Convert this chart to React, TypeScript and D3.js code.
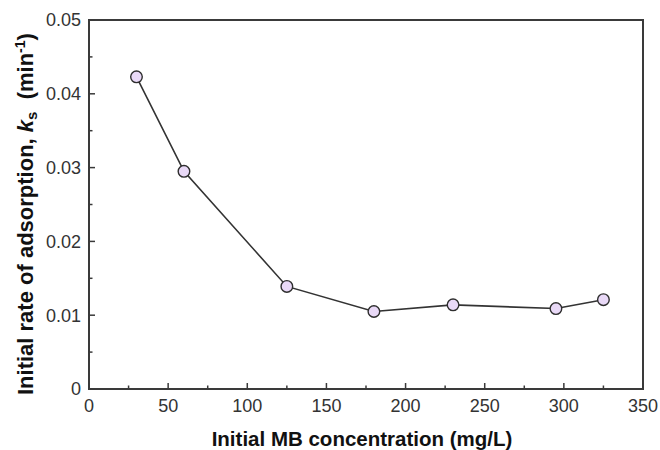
import React from "react";
import * as d3 from "d3";

const concentrations = [30, 60, 125, 180, 230, 295, 325];
const rateKs = [0.0423, 0.0295, 0.0139, 0.0105, 0.0114, 0.0109, 0.0121];
const xTicks = [0, 50, 100, 150, 200, 250, 300, 350];
const yTicks = [0, 0.01, 0.02, 0.03, 0.04, 0.05];
const xMinorTicks = [25, 75, 125, 175, 225, 275, 325];
const yMinorTicks = [0.005, 0.015, 0.025, 0.035, 0.045];

const W = 660;
const H = 450;
const M = { left: 89, right: 17, top: 20, bottom: 61 };

export default function App() {
  const x = d3.scaleLinear().domain([0, 350]).range([M.left, W - M.right]);
  const y = d3.scaleLinear().domain([0, 0.05]).range([H - M.bottom, M.top]);
  const pts = concentrations.map((c, i) => [c, rateKs[i]] as [number, number]);
  const line = d3
    .line<[number, number]>()
    .x((d) => x(d[0]))
    .y((d) => y(d[1]));
  const axisColor = "#3a3a3a";
  const font = "Liberation Sans, Arial, sans-serif";
  const x0 = x(0);
  const x1 = x(350);
  const y0 = y(0);
  const y1 = y(0.05);

  return (
    <svg
      width={W}
      height={H}
      style={{ position: "absolute", left: 0, top: 0, background: "#fff" }}
      fontFamily={font}
    >
      <rect x={0} y={0} width={W} height={H} fill="#fff" />
      {/* frame */}
      <rect
        x={x0}
        y={y1}
        width={x1 - x0}
        height={y0 - y1}
        fill="none"
        stroke={axisColor}
        strokeWidth={2}
      />
      {/* x ticks */}
      {xTicks.map((t) => (
        <g key={"xt" + t}>
          <line x1={x(t)} x2={x(t)} y1={y0} y2={y0 - 6} stroke={axisColor} strokeWidth={1.5} />
          <text
            x={x(t)}
            y={y0 + 23}
            textAnchor="middle"
            fontSize={18}
            fill="#333"
          >
            {t}
          </text>
        </g>
      ))}
      {xMinorTicks.map((t) => (
        <line key={"xm" + t} x1={x(t)} x2={x(t)} y1={y0} y2={y0 - 3.5} stroke={axisColor} strokeWidth={1.5} />
      ))}
      {/* y ticks */}
      {yTicks.map((t) => (
        <g key={"yt" + t}>
          <line x1={x0} x2={x0 + 6} y1={y(t)} y2={y(t)} stroke={axisColor} strokeWidth={1.5} />
          <text
            x={x0 - 8}
            y={y(t)}
            dy="0.36em"
            textAnchor="end"
            fontSize={18}
            fill="#333"
          >
            {t === 0 ? "0" : t.toFixed(2)}
          </text>
        </g>
      ))}
      {yMinorTicks.map((t) => (
        <line key={"ym" + t} x1={x0} x2={x0 + 3.5} y1={y(t)} y2={y(t)} stroke={axisColor} strokeWidth={1.5} />
      ))}
      {/* series */}
      <path d={line(pts) ?? ""} fill="none" stroke="#333" strokeWidth={1.6} />
      {pts.map((p, i) => (
        <circle
          key={"pt" + i}
          cx={x(p[0])}
          cy={y(p[1])}
          r={5.8}
          fill="#e9d9f7"
          stroke="#2e2e2e"
          strokeWidth={1.4}
        />
      ))}
      {/* axis titles */}
      <text
        x={362}
        y={446}
        textAnchor="middle"
        fontSize={20.5}
        fontWeight="bold"
        fill="#111"
      >
        Initial MB concentration (mg/L)
      </text>
      <text
        transform="translate(33, 395) rotate(-90)"
        textAnchor="start"
        fontSize={22}
        fontWeight="bold"
        fill="#111"
      >
        Initial rate of adsorption,{" "}
        <tspan fontStyle="italic">k</tspan>
        <tspan fontSize={15} dy={4}>s</tspan>
        <tspan dy={-4} xmlSpace="preserve">{"  (min"}</tspan>
        <tspan fontSize={14} dy={-8}>-1</tspan>
        <tspan dy={8}>)</tspan>
      </text>
    </svg>
  );
}
